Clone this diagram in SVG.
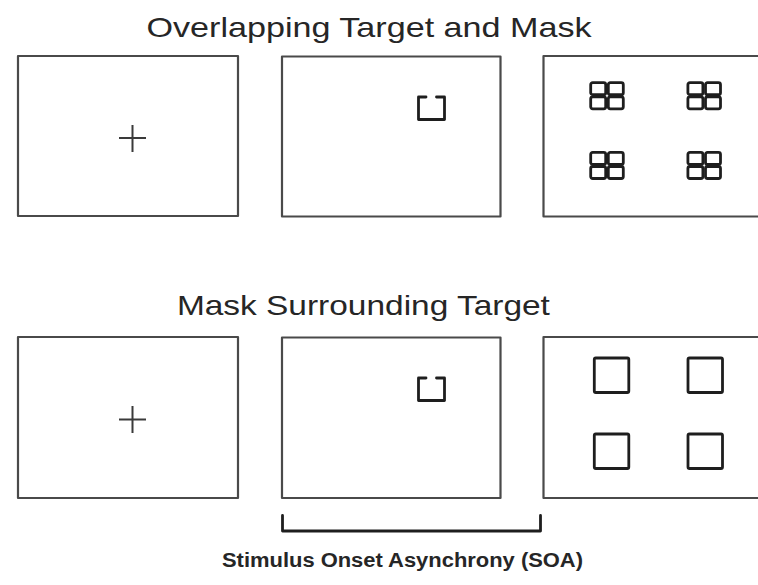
<svg xmlns="http://www.w3.org/2000/svg" width="758" height="585" viewBox="0 0 758 585">
  <style>
    .frame { fill: #ffffff; stroke: #4a4a4a; stroke-width: 2.2; stroke-linejoin: round; }
    .cross { fill: none; stroke: #3a3a3a; stroke-width: 2; }
    .ink { fill: none; stroke: #1e1e1e; stroke-width: 2.8; stroke-linejoin: round; stroke-linecap: round; }
    .title { font-family: "Liberation Sans", Arial, sans-serif; font-size: 28px; fill: #262626; text-anchor: middle; }
    .caption { font-family: "Liberation Sans", Arial, sans-serif; font-size: 20px; font-weight: bold; fill: #262626; text-anchor: middle; }
  </style>
  <defs>
    <!-- target: square with a gap in its top edge -->
    <path id="target" class="ink" d="M 426 97 H 418.5 V 119.5 H 444.5 V 97 H 436.5"/>
    <!-- overlapping mask: 2x2 grid of small rounded boxes -->
    <g id="grid">
      <rect class="ink" x="1.4" y="1.4" width="15" height="12" rx="2"/>
      <rect class="ink" x="19" y="1.4" width="15" height="12" rx="2"/>
      <rect class="ink" x="1.4" y="15.5" width="15" height="12" rx="2"/>
      <rect class="ink" x="19" y="15.5" width="15" height="12" rx="2"/>
    </g>
    <!-- surrounding mask: plain square -->
    <rect id="square" class="ink" x="0" y="0" width="34.5" height="34.5" rx="1.5"/>
  </defs>
  <rect width="758" height="585" fill="#ffffff"/>

  <text class="title" x="369" y="37" textLength="445" lengthAdjust="spacingAndGlyphs">Overlapping Target and Mask</text>
  <text class="title" x="363.4" y="315" textLength="373" lengthAdjust="spacingAndGlyphs">Mask Surrounding Target</text>

  <!-- row 1: overlapping target and mask -->
  <g id="fixation-1">
    <rect class="frame" x="18" y="56" width="220" height="160"/>
    <path class="cross" d="M 119 138 H 146 M 132.5 125 V 152"/>
  </g>
  <g id="target-1">
    <rect class="frame" x="282" y="56.5" width="218.5" height="160"/>
    <use href="#target"/>
  </g>
  <g id="mask-overlap">
    <rect class="frame" x="543.5" y="56" width="230" height="160.5"/>
    <use href="#grid" x="589.3" y="81.3"/>
    <use href="#grid" x="686.5" y="81.3"/>
    <use href="#grid" x="589.3" y="151"/>
    <use href="#grid" x="686.5" y="151"/>
  </g>

  <!-- row 2: mask surrounding target -->
  <g id="fixation-2">
    <rect class="frame" x="18" y="337" width="220" height="161"/>
    <path class="cross" d="M 119 419.5 H 146 M 132.5 406 V 433"/>
  </g>
  <g id="target-2">
    <rect class="frame" x="282" y="337.5" width="218.5" height="160.5"/>
    <use href="#target" y="281"/>
  </g>
  <g id="mask-surround">
    <rect class="frame" x="543.5" y="337" width="230" height="161"/>
    <use href="#square" x="594.3" y="358"/>
    <use href="#square" x="688" y="358"/>
    <use href="#square" x="594.3" y="434"/>
    <use href="#square" x="688" y="434"/>
  </g>

  <!-- SOA bracket under target and mask frames -->
  <g id="connectors">
    <path class="ink" d="M 282.5 515.5 V 531 H 540.5 V 515.5" stroke-linecap="butt"/>
  </g>
  <text class="caption" x="402.5" y="567" textLength="361" lengthAdjust="spacingAndGlyphs">Stimulus Onset Asynchrony (SOA)</text>
</svg>
